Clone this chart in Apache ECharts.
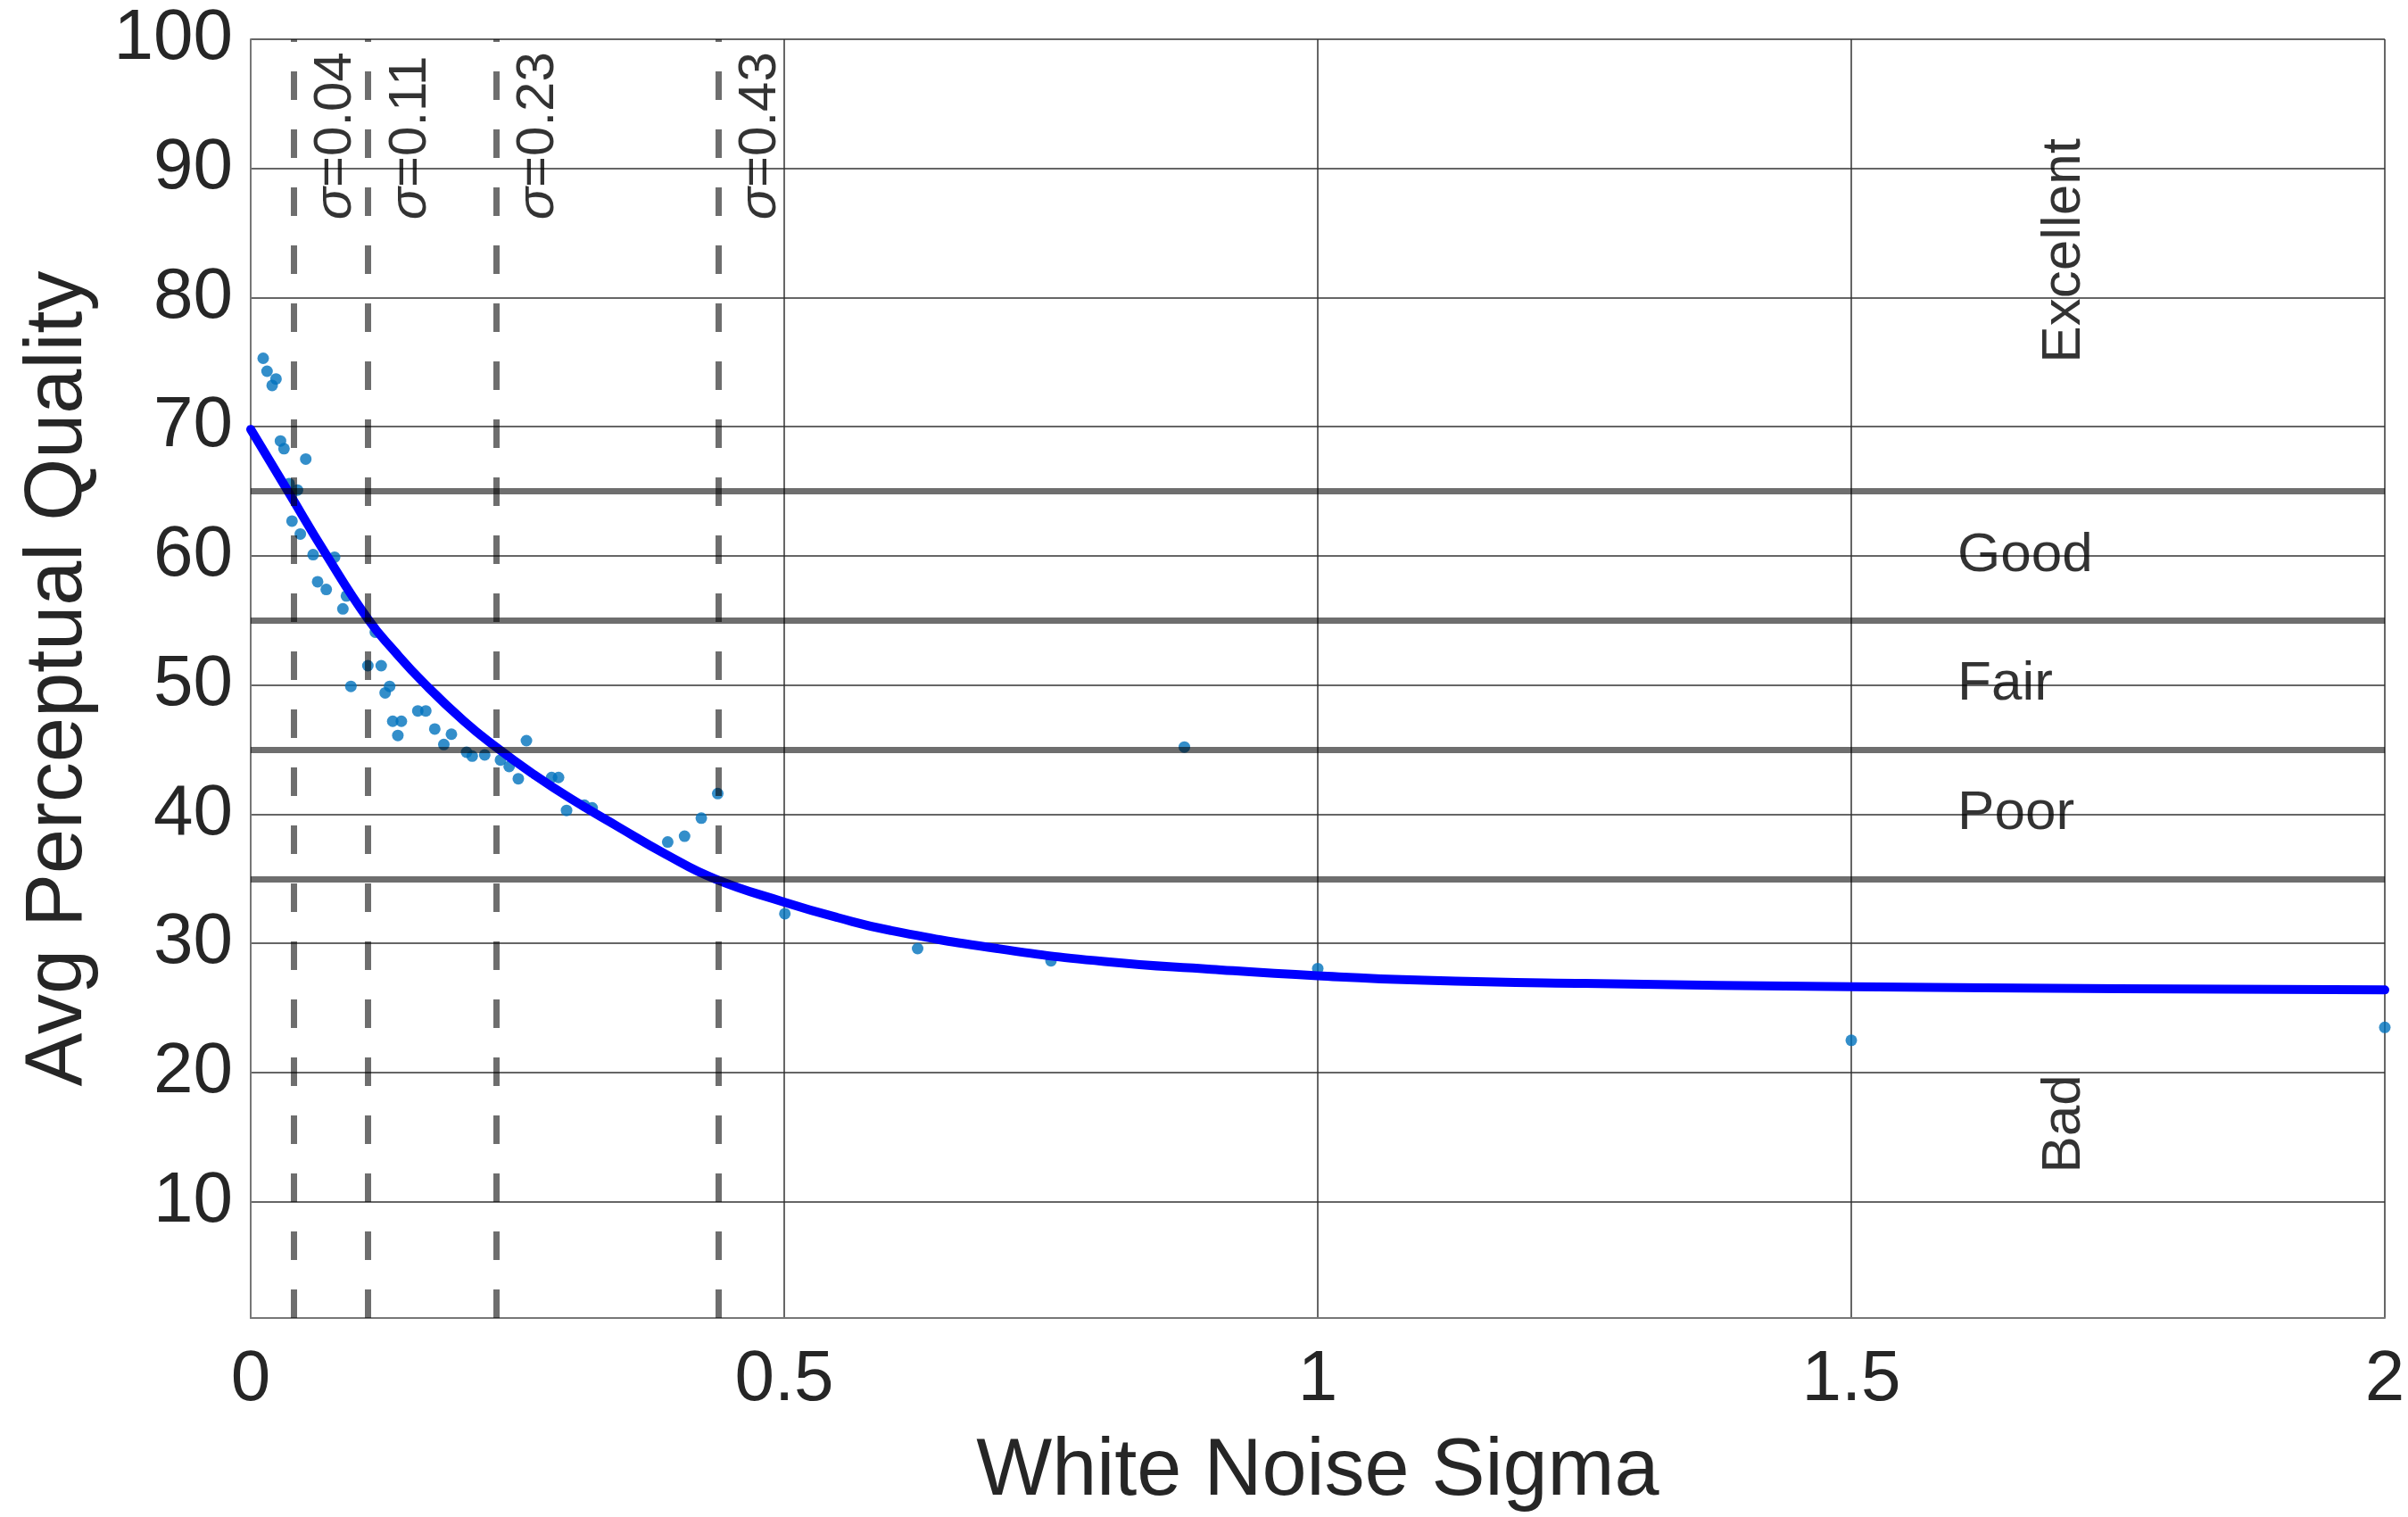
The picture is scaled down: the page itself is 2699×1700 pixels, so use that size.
<!DOCTYPE html>
<html>
<head>
<meta charset="utf-8">
<script src="https://cdn.jsdelivr.net/npm/echarts@6/dist/echarts.min.js"></script>
<style>
html,body{margin:0;padding:0;background:#ffffff;}
#chart{width:2699px;height:1700px;}
</style>
</head>
<body>
<div id="chart"></div>
<script>
// ---- data ----
const xMin = 0, xMax = 2, xInterval = 0.5;
const yMin = 1, yMax = 100;
const yTicks = [10, 20, 30, 40, 50, 60, 70, 80, 90, 100];

const pointX = [0.0117, 0.0153, 0.0237, 0.0201, 0.0279, 0.0312, 0.0516, 0.0360, 0.0438, 0.0387,
                0.0465, 0.0585, 0.0786, 0.0627, 0.0708, 0.0897, 0.0864, 0.1168, 0.1098, 0.1223,
                0.0939, 0.1302, 0.1260, 0.1566, 0.1641, 0.1331, 0.1412, 0.1379, 0.1725, 0.1881,
                0.1810, 0.2023, 0.2076, 0.2193, 0.2584, 0.2341, 0.2422, 0.2508, 0.2820, 0.2885,
                0.2960, 0.3127, 0.3200, 0.3908, 0.4066, 0.4223, 0.4377, 0.5006, 0.625, 0.750,
                0.875, 1.0, 1.5, 2.0];
const pointY = [75.3, 74.3, 73.7, 73.2, 68.9, 68.3, 67.5, 65.6, 65.1, 62.7,
                61.7, 60.1, 59.9, 58.0, 57.4, 56.9, 55.9, 54.1, 51.5, 51.5,
                49.9, 49.9, 49.4, 48.0, 48.0, 47.2, 47.2, 46.1, 46.6, 46.2,
                45.4, 44.8, 44.5, 44.6, 45.7, 44.2, 43.7, 42.75, 42.85, 42.85,
                40.3, 40.7, 40.5, 37.85, 38.3, 39.7, 41.6, 32.3, 29.6, 28.65,
                45.2, 28.05, 22.5, 23.5];

const fitX = [0, 0.035, 0.07, 0.11, 0.135, 0.163, 0.2, 0.23, 0.265, 0.3, 0.345, 0.389, 0.435,
              0.5, 0.55, 0.6, 0.7, 0.8, 0.9, 1.0, 1.1, 1.25, 1.5, 1.75, 2.0];
const fitY = [69.8, 65.0, 60.2, 55.1, 52.6, 50.1, 47.2, 45.2, 43.1, 41.2, 39.0, 36.9, 35.0,
              33.2, 32.0, 31.0, 29.6, 28.6, 28.0, 27.5, 27.15, 26.9, 26.65, 26.5, 26.4];

const thresholds = [65, 55, 45, 35];
const sigmaLines = [0.04, 0.11, 0.23, 0.438];
const sigmaLabels = ['0.04', '0.11', '0.23', '0.43'];
const sigmaLabelY = 86;

const qualityLabels = ['Good', 'Fair', 'Poor'];
const qualityLabelX = 1.6;
const qualityLabelY = [60, 50, 40];

const rotatedLabels = ['Excellent', 'Bad'];
const rotatedLabelX = 1.7;
const rotatedLabelY = [83.6, 16];

const xTitle = 'White Noise Sigma';
const yTitle = 'Avg Perceptual Quality';

// ---- chart ----
const FONT = '"Liberation Sans", Arial, Helvetica, sans-serif';
const TXT = '#262626';
const GRAY = 'rgba(0,0,0,0.57)';

const chart = echarts.init(document.getElementById('chart'), null, {renderer: 'canvas'});

const points = pointX.map((x, i) => [x, pointY[i]]);
const fit = fitX.map((x, i) => [x, fitY[i]]);

const hLines = thresholds.map(v => [{coord: [xMin, v]}, {coord: [xMax, v]}]);
const vLines = sigmaLines.map(v => [{coord: [v, yMin]}, {coord: [v, yMax]}]);

const option = {
  backgroundColor: '#ffffff',
  animation: false,
  grid: {left: 281, right: 26, top: 44, bottom: 221},
  xAxis: {
    type: 'value', min: xMin, max: xMax, interval: xInterval,
    name: xTitle, nameLocation: 'middle', nameGap: 128,
    nameTextStyle: {fontFamily: FONT, fontSize: 90, color: TXT},
    axisLine: {show: true, lineStyle: {color: '#777777', width: 2}},
    axisTick: {show: false},
    axisLabel: {fontFamily: FONT, fontSize: 80, color: TXT, margin: 30},
    splitLine: {show: true, lineStyle: {color: '#333333', width: 1.5}}
  },
  yAxis: {
    type: 'value', min: yMin, max: yMax,
    name: yTitle, nameLocation: 'middle', nameGap: 170, nameRotate: 90,
    nameTextStyle: {fontFamily: FONT, fontSize: 90, color: TXT},
    axisLine: {show: true, lineStyle: {color: '#777777', width: 2}},
    axisTick: {show: false, customValues: yTicks},
    axisLabel: {fontFamily: FONT, fontSize: 80, color: TXT, margin: 20, customValues: yTicks},
    splitLine: {show: true, lineStyle: {color: '#333333', width: 1.5}}
  },
  series: [
    {
      name: 'data', type: 'scatter', z: 2,
      data: points, symbol: 'circle', symbolSize: 13,
      itemStyle: {color: '#0072BD'}
    },
    {
      name: 'fit', type: 'line', z: 3,
      data: fit, showSymbol: false, smooth: 0.5,
      lineStyle: {color: '#0000FF', width: 10, cap: 'round', join: 'round'}
    },
    {
      name: 'thresholds', type: 'scatter', z: 5, data: [],
      markLine: {
        silent: true, symbol: 'none', animation: false,
        label: {show: false},
        lineStyle: {color: GRAY, width: 7, type: 'solid'},
        data: hLines
      }
    },
    {
      name: 'sigmaLines', type: 'scatter', z: 5, data: [],
      markLine: {
        silent: true, symbol: 'none', animation: false,
        label: {show: false},
        lineStyle: {color: GRAY, width: 7, type: [32, 33], cap: 'butt'},
        data: vLines
      }
    },
    {
      name: 'sigmaText', type: 'scatter', z: 6, silent: true,
      data: sigmaLines.map(v => [v, sigmaLabelY]),
      symbolSize: 1, itemStyle: {color: 'rgba(0,0,0,0)'},
      label: {
        show: true, position: [48, 0], rotate: 90,
        align: 'left', verticalAlign: 'middle',
        fontFamily: FONT, fontSize: 60, color: '#000000',
        formatter: p => '{i|σ}=' + sigmaLabels[p.dataIndex],
        rich: {i: {fontFamily: FONT, fontSize: 60, fontStyle: 'italic', color: '#000000'}}
      }
    },
    {
      name: 'qualityText', type: 'scatter', z: 6, silent: true,
      data: qualityLabelY.map(v => [qualityLabelX, v]),
      symbolSize: 1, itemStyle: {color: 'rgba(0,0,0,0)'},
      label: {
        show: true, position: [0, 0],
        align: 'left', verticalAlign: 'middle',
        fontFamily: FONT, fontSize: 62, color: '#000000',
        formatter: p => qualityLabels[p.dataIndex]
      }
    },
    {
      name: 'rotatedText', type: 'scatter', z: 6, silent: true,
      data: rotatedLabelY.map(v => [rotatedLabelX, v]),
      symbolSize: 1, itemStyle: {color: 'rgba(0,0,0,0)'},
      label: {
        show: true, position: [0, 0], rotate: 90,
        align: 'center', verticalAlign: 'middle',
        fontFamily: FONT, fontSize: 62, color: '#000000',
        formatter: p => rotatedLabels[p.dataIndex]
      }
    }
  ]
};
chart.setOption(option);
</script>
</body>
</html>
